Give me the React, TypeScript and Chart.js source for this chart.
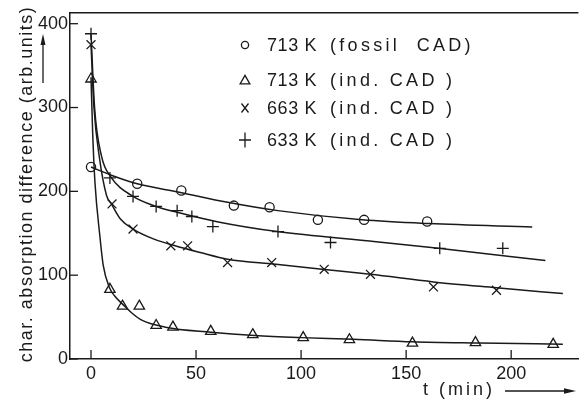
import React, { useEffect, useRef } from 'react';
import { Chart, registerables } from 'chart.js';

Chart.register(...registerables);

// Axis ticks
const X_TICKS = [0, 50, 100, 150, 200];
const Y_TICKS = [0, 100, 200, 300, 400];

// 713 K (fossil CAD): measured points and fitted curve
const FOSSIL_713_T = [0, 22, 43, 68, 85, 108, 130, 160];
const FOSSIL_713_V = [229, 209, 201, 183, 181, 166, 166, 164];
const FOSSIL_713_FIT_T = [0, 10, 22, 42, 65, 89, 129, 161, 210];
const FOSSIL_713_FIT_V = [229, 219, 209, 199, 187, 177, 166, 161.5, 157.5];

// 713 K (ind. CAD)
const IND_713_T = [0, 9, 15, 23, 31, 39, 57, 77, 101, 123, 153, 183, 220];
const IND_713_V = [334, 83, 63, 63, 40, 38, 33, 29, 25.5, 23, 19, 19.5, 17.5];
const IND_713_FIT_T = [0, 0.8, 1.9, 4.2, 5.8, 8.8, 12, 15, 20, 24.4, 35.4, 57, 78, 100, 125, 153, 185, 224.6];
const IND_713_FIT_V = [336, 269, 210, 147, 112, 85, 73, 65.5, 53.7, 46, 38, 32, 28, 25.5, 23.5, 20.5, 19, 17.6];

// 663 K (ind. CAD)
const IND_663_T = [0, 10, 20, 38, 46, 65, 86, 111, 133, 163, 193];
const IND_663_V = [375, 185, 155, 135, 135, 115, 115, 107, 101, 86, 82];
const IND_663_FIT_T = [0, 1.4, 3.9, 7.4, 9.7, 14, 20, 30, 40, 52, 65, 88, 110, 133, 163, 193, 224.6];
const IND_663_FIT_V = [375, 300, 242, 195, 185, 167, 155, 143, 135, 127, 119, 113, 107, 101, 92, 85, 78];

// 633 K (ind. CAD)
const IND_633_T = [0, 9, 20, 31, 41, 48, 58, 89, 114, 166, 196];
const IND_633_V = [388, 216, 194, 182, 177, 170, 158, 152, 139, 132, 132];
const IND_633_FIT_T = [0, 1.7, 5, 9.5, 20, 31, 41, 60.6, 88.7, 135.7, 165.4, 216.3];
const IND_633_FIT_V = [388, 300, 242, 217, 194, 182, 175, 163.5, 152, 140, 132, 117.5];

// Legend text
const LEGEND_TEMPS = ['713 K', '713 K', '663 K', '633 K'];
const LEGEND_NOTES = ['(fossil  CAD)', '(ind. CAD )', '(ind. CAD )', '(ind. CAD )'];
const LEGEND_ROWS_Y = [45, 80, 108, 140];

const Y_TITLE = 'char. absorption difference (arb.units)';
const X_TITLE = 't (min)';

const INK = '#1a1a1a';
const FONT = '"Liberation Sans", Arial, Helvetica, sans-serif';

const pts = (t: number[], v: number[]) => t.map((x, i) => ({ x, y: v[i] }));

const curve = (t: number[], v: number[]) => ({
  type: 'line' as const,
  data: pts(t, v),
  borderColor: INK,
  borderWidth: 1.5,
  pointRadius: 0,
  fill: false,
  cubicInterpolationMode: 'monotone' as const,
  order: 2,
});

const marks = (t: number[], v: number[], style: string, r: number) => ({
  type: 'scatter' as const,
  data: pts(t, v),
  pointStyle: style,
  pointRadius: r,
  borderColor: INK,
  backgroundColor: 'rgba(0,0,0,0)',
  borderWidth: 1.3,
  order: 1,
});

function drawLegendSymbol(ctx: CanvasRenderingContext2D, kind: number, x: number, y: number) {
  ctx.beginPath();
  if (kind === 0) {
    ctx.arc(x, y, 3.6, 0, Math.PI * 2);
  } else if (kind === 1) {
    const r = 5.6;
    for (let k = 0; k < 3; k++) {
      const a = k * (2 * Math.PI / 3);
      const px = x + Math.sin(a) * r;
      const py = y + 1 - Math.cos(a) * r;
      if (k === 0) ctx.moveTo(px, py); else ctx.lineTo(px, py);
    }
    ctx.closePath();
  } else if (kind === 2) {
    ctx.moveTo(x - 3.5, y - 4.5); ctx.lineTo(x + 3.5, y + 4.5);
    ctx.moveTo(x + 3.5, y - 4.5); ctx.lineTo(x - 3.5, y + 4.5);
  } else {
    ctx.moveTo(x - 6, y); ctx.lineTo(x + 6, y);
    ctx.moveTo(x, y - 7.5); ctx.lineTo(x, y + 7.5);
  }
  ctx.stroke();
}

const decorPlugin = {
  id: 'decor',
  afterDraw(chart: any) {
    const ctx: CanvasRenderingContext2D = chart.ctx;
    const { left, right, top, bottom } = chart.chartArea;
    const xs = chart.scales.x;
    const ys = chart.scales.y;
    ctx.save();
    ctx.strokeStyle = INK;
    ctx.fillStyle = INK;
    ctx.lineWidth = 1.5;

    // upper frame line
    ctx.beginPath();
    ctx.moveTo(left, top);
    ctx.lineTo(right, top);
    ctx.stroke();

    // inward tick marks
    ctx.lineWidth = 1.3;
    X_TICKS.forEach((v) => {
      const x = xs.getPixelForValue(v);
      ctx.beginPath();
      ctx.moveTo(x, bottom);
      ctx.lineTo(x, bottom - 9);
      ctx.stroke();
    });
    Y_TICKS.forEach((v) => {
      const y = ys.getPixelForValue(v);
      ctx.beginPath();
      ctx.moveTo(left, y);
      ctx.lineTo(left + 8, y);
      ctx.stroke();
    });

    // y-axis title, rotated
    ctx.save();
    ctx.font = `18px ${FONT}`;
    (ctx as any).letterSpacing = '1.5px';
    ctx.translate(32, 184);
    ctx.rotate(-Math.PI / 2);
    ctx.textAlign = 'center';
    ctx.textBaseline = 'alphabetic';
    ctx.fillText(Y_TITLE, 0, 0);
    ctx.restore();

    // upward arrow next to the y title
    ctx.lineWidth = 1.3;
    ctx.beginPath();
    ctx.moveTo(43, 83);
    ctx.lineTo(43, 42);
    ctx.stroke();
    ctx.beginPath();
    ctx.moveTo(43, 34);
    ctx.lineTo(40.5, 45);
    ctx.lineTo(45.5, 45);
    ctx.closePath();
    ctx.fill();

    // x-axis title with arrow
    ctx.save();
    ctx.font = `18px ${FONT}`;
    (ctx as any).letterSpacing = '3px';
    ctx.textAlign = 'left';
    ctx.textBaseline = 'alphabetic';
    ctx.fillText(X_TITLE, 423, 395);
    ctx.restore();
    ctx.lineWidth = 1.3;
    ctx.beginPath();
    ctx.moveTo(505, 391);
    ctx.lineTo(566, 391);
    ctx.stroke();
    ctx.beginPath();
    ctx.moveTo(576, 391);
    ctx.lineTo(564, 388.3);
    ctx.lineTo(564, 393.7);
    ctx.closePath();
    ctx.fill();

    // legend
    ctx.lineWidth = 1.3;
    LEGEND_TEMPS.forEach((temp, i) => {
      const y = LEGEND_ROWS_Y[i];
      drawLegendSymbol(ctx, i, 245, y);
      ctx.save();
      ctx.font = `18px ${FONT}`;
      ctx.textBaseline = 'middle';
      ctx.textAlign = 'left';
      (ctx as any).letterSpacing = '0.6px';
      ctx.fillText(temp, 267, y + 1);
      (ctx as any).letterSpacing = '3.3px';
      ctx.fillText(LEGEND_NOTES[i], 330, y + 1);
      ctx.restore();
    });

    ctx.restore();
  },
};

export default function App() {
  const canvasRef = useRef<HTMLCanvasElement | null>(null);

  useEffect(() => {
    const canvas = canvasRef.current;
    if (!canvas) return;
    const tickFont = { family: FONT, size: 18 };
    const chart = new Chart(canvas, {
      type: 'scatter',
      data: {
        datasets: [
          curve(FOSSIL_713_FIT_T, FOSSIL_713_FIT_V),
          curve(IND_713_FIT_T, IND_713_FIT_V),
          curve(IND_663_FIT_T, IND_663_FIT_V),
          curve(IND_633_FIT_T, IND_633_FIT_V),
          marks(FOSSIL_713_T, FOSSIL_713_V, 'circle', 4.6),
          marks(IND_713_T, IND_713_V, 'triangle', 6),
          marks(IND_663_T, IND_663_V, 'crossRot', 6.3),
          marks(IND_633_T, IND_633_V, 'cross', 6),
        ] as any,
      },
      options: {
        responsive: false,
        animation: false,
        devicePixelRatio: 1,
        layout: { padding: { top: 8, right: 0, left: 0, bottom: 0 } },
        plugins: {
          legend: { display: false },
          tooltip: { enabled: false },
        },
        scales: {
          x: {
            type: 'linear',
            min: -10,
            max: 232,
            afterBuildTicks: (s: any) => {
              s.ticks = X_TICKS.map((value) => ({ value }));
            },
            afterFit: (s: any) => {
              s.height = 41;
            },
            grid: { display: false, drawTicks: false },
            border: { display: true, color: INK, width: 1.5 },
            ticks: {
              font: tickFont,
              color: INK,
              padding: 4,
              maxRotation: 0,
              autoSkip: false,
            },
          },
          y: {
            type: 'linear',
            min: 0,
            max: 413,
            afterBuildTicks: (s: any) => {
              s.ticks = Y_TICKS.map((value) => ({ value }));
            },
            afterFit: (s: any) => {
              s.width = 70;
            },
            grid: { display: false, drawTicks: false },
            border: { display: true, color: INK, width: 1.5 },
            ticks: {
              font: tickFont,
              color: INK,
              padding: 2,
              autoSkip: false,
            },
          },
        },
      },
      plugins: [decorPlugin],
    });
    return () => chart.destroy();
  }, []);

  return (
    <div style={{ position: 'fixed', left: 0, top: 0, width: 586, height: 400, background: '#fff' }}>
      <canvas ref={canvasRef} width={586} height={400} style={{ display: 'block', width: 586, height: 400 }} />
    </div>
  );
}
